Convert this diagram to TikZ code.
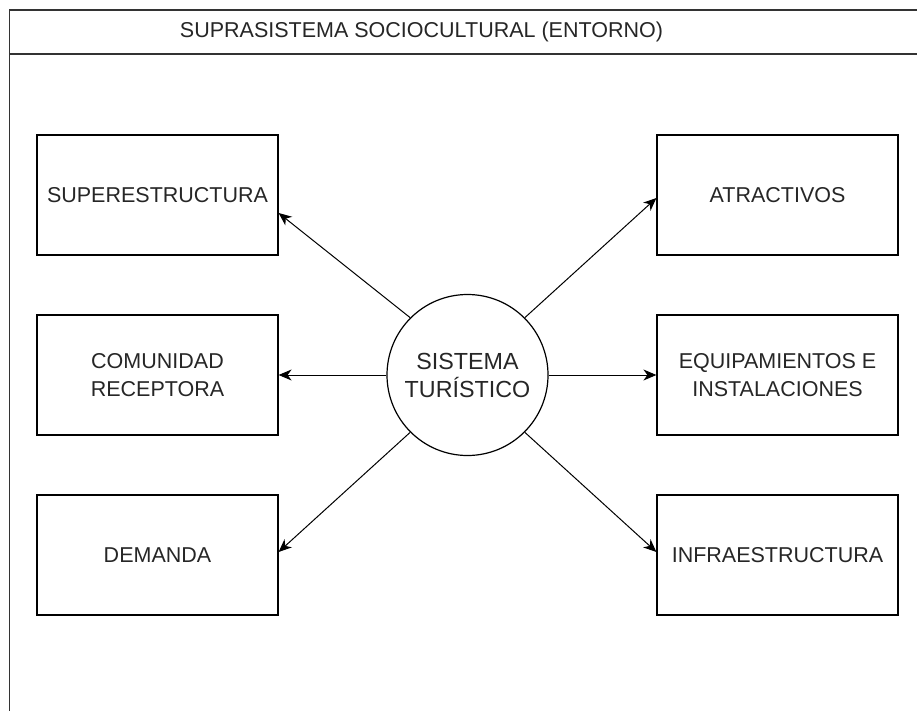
\documentclass[tikz,border=0pt]{standalone}
\usepackage{fontspec}
\setmainfont{Liberation Sans}
\usetikzlibrary{arrows.meta}
\begin{document}
\begin{tikzpicture}[x=1pt,y=-1pt,
	caja/.style={draw,line width=1.2pt,minimum width=241pt,minimum height=120pt,inner sep=0pt,align=center,text=black!85,font=\fontsize{21.5}{28}\selectfont},
	flecha/.style={line width=1pt,-{Stealth[length=13pt,width=11pt,inset=4pt]}}]
		\useasboundingbox (0,0) rectangle (917,711);
		%entorno
		\draw[line width=1.2pt,black!80] (925,10)--(9.5,10)--(9.5,720) (9.5,54)--(925,54);
		\node[text=black!85,font=\fontsize{21.5}{28}\selectfont] (titulo) at (421.5,32) {SUPRASISTEMA SOCIOCULTURAL (ENTORNO)};
		\node[circle,draw,line width=1.2pt,minimum size=161pt,inner sep=0pt,align=center,text=black!85,font=\fontsize{23.3}{28}\selectfont] (sis) at (467.5,375) {SISTEMA\\TURÍSTICO};
		\foreach \n/\y/\t in {sup/195/SUPERESTRUCTURA,com/375/{COMUNIDAD\\RECEPTORA},dem/555/DEMANDA}
		\node[caja] (\n) at (157.5,\y) {\t};
		\foreach \n/\y/\t in {atr/195/ATRACTIVOS,equ/375/{EQUIPAMIENTOS E\\INSTALACIONES},inf/555/INFRAESTRUCTURA}
		\node[caja] (\n) at (777.5,\y) {\t};
		\draw[flecha] (sis.135)--([yshift=-18pt]sup.east);
		\draw[flecha] (sis.west)--(com.east);
		\draw[flecha] (sis.225)--([yshift=3pt]dem.east);
		\draw[flecha] (sis.45)--([yshift=-3pt]atr.west);
		\draw[flecha] (sis.east)--(equ.west);
		\draw[flecha] (sis.315)--([yshift=3pt]inf.west);
\end{tikzpicture}
\end{document}
